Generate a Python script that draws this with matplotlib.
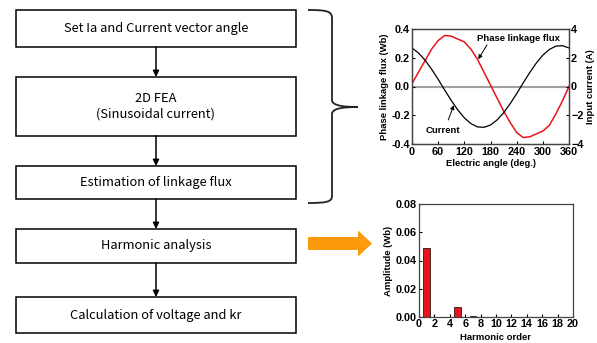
import numpy as np
import matplotlib.pyplot as plt
from matplotlib.patches import Rectangle, FancyArrow, PathPatch
from matplotlib.path import Path

# flowchart steps
steps = ['Set Ia and Current vector angle',
         '2D FEA\n(Sinusoidal current)',
         'Estimation of linkage flux',
         'Harmonic analysis',
         'Calculation of voltage and kr']

# phase linkage flux (Wb) and input current (A) vs electric angle
angle = [0, 15, 30, 45, 60, 75, 90, 105, 120, 135, 150, 165, 180,
         195, 210, 225, 240, 255, 270, 285, 300, 315, 330, 345, 360]
flux = [0.02, 0.10, 0.18, 0.26, 0.32, 0.355, 0.35, 0.33, 0.31, 0.26, 0.19, 0.10, 0.01,
        -0.08, -0.17, -0.25, -0.32, -0.355, -0.35, -0.33, -0.31, -0.27, -0.19, -0.10, 0.0]
current = [2.68, 2.33, 1.83, 1.20, 0.50, -0.25, -0.97, -1.63, -2.18, -2.58, -2.81, -2.84, -2.68,
           -2.33, -1.83, -1.20, -0.50, 0.25, 0.97, 1.63, 2.18, 2.58, 2.81, 2.84, 2.68]

# harmonic amplitudes (Wb)
order = [1, 3, 5, 7, 9, 11, 13]
amp = [0.049, 0.0, 0.007, 0.0005, 0.0, 0.0, 0.0]

W, H = 597, 343
fig = plt.figure(figsize=(W / 100, H / 100), dpi=100)

# ---- flowchart in pixel coords
fc = fig.add_axes([0, 0, 1, 1])
fc.set_xlim(0, W)
fc.set_ylim(H, 0)
fc.axis('off')

boxes = [(10, 47), (77, 136), (166, 199), (229, 263), (297, 333)]
kfont = ['Noto Sans CJK KR', 'DejaVu Sans']
for (y0, y1), s in zip(boxes, steps):
    fc.add_patch(Rectangle((16, y0), 280, y1 - y0, fill=False, ec='black', lw=1.1))
    fc.text(156, (y0 + y1) / 2, s, ha='center', va='center', fontsize=9.3,
            family=kfont, linespacing=1.3)
for (a, b) in zip(boxes[:-1], boxes[1:]):
    fc.annotate('', xy=(156, b[0]), xytext=(156, a[1]),
                arrowprops=dict(arrowstyle='-|>', color='black', lw=1.1,
                                mutation_scale=9, shrinkA=0, shrinkB=0))

# brace
verts = [(308, 10), (326, 10), (332, 11), (332, 18),
         (332, 100),
         (332, 106), (345, 107), (358, 107),
         (345, 107), (332, 108), (332, 114),
         (332, 196),
         (332, 202), (326, 203), (308, 203)]
codes = [Path.MOVETO, Path.CURVE4, Path.CURVE4, Path.CURVE4,
         Path.LINETO,
         Path.CURVE4, Path.CURVE4, Path.CURVE4,
         Path.CURVE4, Path.CURVE4, Path.CURVE4,
         Path.LINETO,
         Path.CURVE4, Path.CURVE4, Path.CURVE4]
fc.add_patch(PathPatch(Path(verts, codes), fill=False, ec='#222222', lw=1.3))

# orange arrow
fc.add_patch(FancyArrow(308, 243.5, 64, 0, width=13, head_width=26, head_length=14,
                        length_includes_head=True, color='#FA9A0C', lw=0))

bfont = dict(family='Liberation Sans', weight='bold')
spine_c = '#444444'

# ---- flux / current plot
ax = fig.add_axes([412 / W, 1 - 144 / H, 157 / W, 115 / H])
ax.axhline(0, color='#a0a0a0', lw=1.5, zorder=1)
ax.plot(angle, flux, color='#e8141c', lw=1.1, zorder=3)
ax.set_xlim(0, 360)
ax.set_ylim(-0.4, 0.4)
ax.set_xticks(range(0, 361, 60))
ax.set_yticks([-0.4, -0.2, 0.0, 0.2, 0.4])
ax.set_yticklabels(['-0.4', '-0.2', '0.0', '0.2', '0.4'])
ax2 = ax.twinx()
ax2.plot(angle, current, color='black', lw=0.9, zorder=2)
ax2.set_ylim(-4, 4)
ax2.set_yticks([-4, -2, 0, 2, 4])
ax.set_xlabel('Electric angle (deg.)', fontsize=6.8, labelpad=1, **bfont)
ax.set_ylabel('Phase linkage flux (Wb)', fontsize=6.8, labelpad=2, **bfont)
ax2.set_ylabel('Input current (A)', fontsize=6.8, labelpad=2, **bfont)
for a in (ax, ax2):
    a.tick_params(direction='in', length=2, pad=1.5, labelsize=7.8, colors='black')
    for lab in a.get_xticklabels() + a.get_yticklabels():
        lab.set_fontweight('bold')
        lab.set_family('Liberation Sans')
    for sp in a.spines.values():
        sp.set_color(spine_c)
        sp.set_linewidth(0.9)
ax.tick_params(axis='x', pad=2.5)

ax.text(243, 0.335, 'Phase linkage flux', ha='center', va='center', fontsize=6.8, **bfont)
ax.annotate('', xy=(152, 0.19), xytext=(172, 0.29),
            arrowprops=dict(arrowstyle='-|>', color='black', lw=0.7, mutation_scale=6,
                            shrinkA=0, shrinkB=0))
ax.text(71, -0.303, 'Current', ha='center', va='center', fontsize=6.8, **bfont)
ax.annotate('', xy=(96, -0.13), xytext=(83, -0.233),
            arrowprops=dict(arrowstyle='-|>', color='black', lw=0.7, mutation_scale=6,
                            shrinkA=0, shrinkB=0))

# ---- harmonic plot
bx = fig.add_axes([419 / W, 1 - 317 / H, 154 / W, 113 / H])
bx.bar(order, amp, width=0.85, color='#e8141c', edgecolor='black', linewidth=0.5)
bx.set_xlim(0, 20)
bx.set_ylim(0, 0.08)
bx.set_xticks(range(0, 21, 2))
bx.set_yticks([0, 0.02, 0.04, 0.06, 0.08])
bx.set_yticklabels(['0.00', '0.02', '0.04', '0.06', '0.08'])
bx.set_xlabel('Harmonic order', fontsize=6.8, labelpad=3, **bfont)
bx.set_ylabel('Amplitude (Wb)', fontsize=6.8, labelpad=2, **bfont)
bx.tick_params(direction='in', length=2, pad=1.5, labelsize=7.8)
for lab in bx.get_xticklabels() + bx.get_yticklabels():
    lab.set_fontweight('bold')
    lab.set_family('Liberation Sans')
for sp in bx.spines.values():
    sp.set_color(spine_c)
    sp.set_linewidth(0.9)

fig.savefig('out.png', dpi=100, facecolor='white')
